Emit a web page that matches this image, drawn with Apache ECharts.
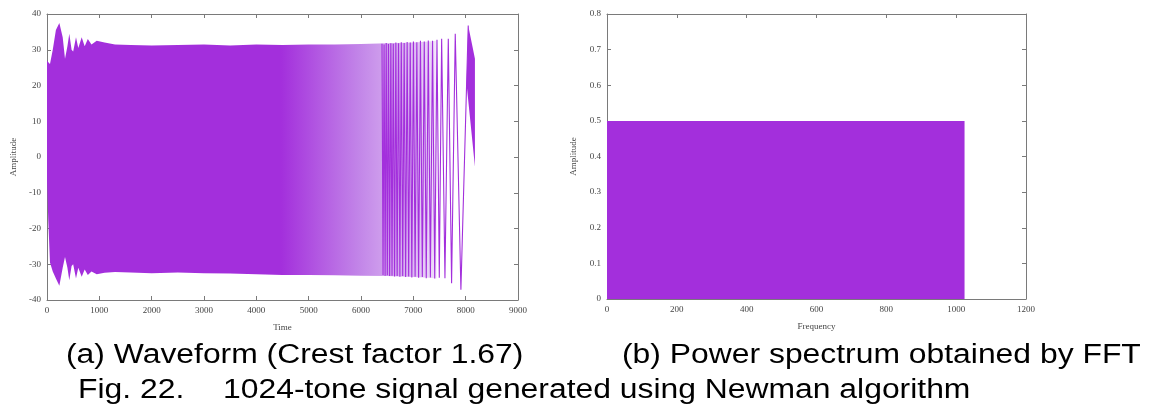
<!DOCTYPE html>
<html>
<head>
<meta charset="utf-8">
<script src="https://cdn.jsdelivr.net/npm/echarts@6/dist/echarts.min.js"></script>
<style>
  html, body { margin: 0; padding: 0; background: #ffffff; }
  #chart { width: 1151px; height: 412px; }
</style>
</head>
<body>
<div id="chart"></div>
<script>
// ---- Waveform (a): dense envelope of the 1024-tone signal ----
const envTime  = [0, 25, 57, 110, 170, 236, 300, 344, 390, 426, 470, 500, 554, 598, 663, 720, 780, 850, 950, 1100, 1300, 1600, 2000, 2500, 3000, 3500, 4000, 4500, 5000, 5500, 6000, 6500, 7000, 7300, 7450];
const envUpper = [27, 26.5, 26, 30, 35.5, 37.5, 33.5, 27.5, 31, 34.5, 30, 29.5, 33.5, 30.5, 33.5, 31, 33, 31.5, 32.5, 32, 31.5, 31.3, 31.2, 31.3, 31.5, 31.2, 31.5, 31.3, 31.5, 31.5, 31.6, 31.8, 32, 32.3, 32.5];
const envLower = [-6.5, -18, -29.5, -32, -34, -36, -31, -28, -31, -34.5, -30.5, -30, -34, -31, -33.5, -31.5, -33, -32, -32.8, -32.4, -32.2, -32.3, -32.5, -32.3, -32.5, -32.6, -32.8, -33, -33, -33.1, -33.2, -33.3, -33.6, -33.8, -34];

// Resolved swings toward the end of the record (alternating peaks / troughs)
const swingTime = [
  6401, 6421, 6441, 6461, 6482, 6503, 6525, 6547, 6570, 6593,
  6617, 6641, 6666, 6691, 6717, 6743, 6770, 6797, 6825, 6853,
  6882, 6911, 6941, 6971, 7002, 7034, 7067, 7101, 7136, 7172,
  7209, 7247, 7286, 7326, 7367, 7409, 7452, 7496, 7541, 7604,
  7668, 7731, 7801, 7909, 8049
];
const swingValue = [
  31.7, -33.0, 31.5, -33.2, 31.9, -33.1, 31.6, -33.3, 31.8, -33.2,
  31.7, -33.4, 32.0, -33.3, 31.8, -33.5, 32.1, -33.3, 31.9, -33.6,
  32.2, -33.4, 32.0, -33.7, 32.3, -33.5, 32.1, -33.8, 32.5, -33.6,
  32.3, -33.9, 32.6, -33.7, 32.5, -34.0, 32.8, -33.8, 33.1, -33.9,
  33.1, -35.3, 34.5, -37.1, 36.8
];

// Final burst after the last swing
const burstTime  = [8017, 8049, 8090, 8130, 8177];
const burstUpper = [20.5, 36.8, 33.8, 30.9, 27.5];
const burstLower = [20.5, 15.9, 9.9, 4.1, -2.7];

// ---- Power spectrum (b): flat 1024-tone spectrum ----
const toneRange = [0, 1024];
const toneLevel = 0.5;

// ---- Axis ticks ----
const timeTicks = { min: 0, max: 9000, step: 1000 };
const waveAmpTicks = { min: -40, max: 40, step: 10 };
const freqTicks = { min: 0, max: 1200, step: 200 };
const specAmpTicks = { min: 0, max: 0.8, step: 0.1 };

const purple = '#a32fdc';
const frameColor = '#7a7a7a';
const labelFont = 'Liberation Serif';
const captionFont = '27px "Liberation Sans", Arial, sans-serif';

function plainNumber(v) {
  return String(Number(Number(v).toFixed(6)));
}

function axisBase(ticks, extra) {
  return Object.assign({
    type: 'value',
    min: ticks.min, max: ticks.max, interval: ticks.step,
    axisLine: { show: true, onZero: false, lineStyle: { color: frameColor, width: 1 } },
    axisTick: { show: true, inside: true, length: 4, lineStyle: { color: frameColor } },
    axisLabel: { show: true, fontFamily: labelFont, fontSize: 9, color: '#444', margin: 6, formatter: plainNumber },
    splitLine: { show: false },
    nameTextStyle: { fontFamily: labelFont, fontSize: 9, color: '#444' }
  }, extra);
}
function mirrorAxis(ticks, extra) {
  const a = axisBase(ticks, extra);
  a.axisLabel = { show: false };
  return a;
}

function bandRenderer(times, upper, lower, gradientSpan) {
  return function (params, api) {
    if (params.dataIndex !== 0) return null;
    const pts = [];
    for (let i = 0; i < times.length; i++) pts.push(api.coord([times[i], upper[i]]));
    for (let i = times.length - 1; i >= 0; i--) pts.push(api.coord([times[i], lower[i]]));
    let fill = purple;
    if (gradientSpan) {
      const x0 = api.coord([gradientSpan[0], 0])[0];
      const x1 = api.coord([gradientSpan[1], 0])[0];
      fill = new echarts.graphic.LinearGradient(x0, 0, x1, 0, [
        { offset: 0, color: '#a32fdc' },
        { offset: 0.6, color: '#a32fdc' },
        { offset: 0.7, color: '#b35ae2' },
        { offset: 0.8, color: '#c285e8' },
        { offset: 0.88, color: '#d2a5ee' },
        { offset: 0.95, color: '#dfc0f3' },
        { offset: 0.99, color: '#ecd9f8' },
        { offset: 1, color: '#f8f0fc' }
      ], true);
    }
    return { type: 'polygon', shape: { points: pts }, style: { fill: fill, stroke: null } };
  };
}

const chart = echarts.init(document.getElementById('chart'), null, { renderer: 'canvas' });

chart.setOption({
  backgroundColor: '#ffffff',
  animation: false,
  grid: [
    { left: 47, top: 14, width: 471, height: 286 },
    { left: 607, top: 14, width: 419, height: 285 }
  ],
  xAxis: [
    axisBase(timeTicks, { gridIndex: 0, position: 'bottom', name: 'Time', nameLocation: 'middle', nameGap: 23 }),
    mirrorAxis(timeTicks, { gridIndex: 0, position: 'top' }),
    axisBase(freqTicks, { gridIndex: 1, position: 'bottom', name: 'Frequency', nameLocation: 'middle', nameGap: 23 }),
    mirrorAxis(freqTicks, { gridIndex: 1, position: 'top' })
  ],
  yAxis: [
    axisBase(waveAmpTicks, { gridIndex: 0, position: 'left', name: 'Amplitude', nameLocation: 'middle', nameRotate: 90, nameGap: 29 }),
    mirrorAxis(waveAmpTicks, { gridIndex: 0, position: 'right' }),
    axisBase(specAmpTicks, { gridIndex: 1, position: 'left', name: 'Amplitude', nameLocation: 'middle', nameRotate: 90, nameGap: 29 }),
    mirrorAxis(specAmpTicks, { gridIndex: 1, position: 'right' })
  ],
  series: [
    {
      type: 'custom', name: 'envelope', xAxisIndex: 0, yAxisIndex: 0,
      data: envTime.map((t, i) => [t, envUpper[i], envLower[i]]),
      encode: { x: 0, y: [1, 2] },
      renderItem: bandRenderer(envTime, envUpper, envLower, [envTime[0], envTime[envTime.length - 1]]),
      z: 2
    },
    {
      type: 'line', name: 'swings', xAxisIndex: 0, yAxisIndex: 0,
      data: swingTime.map((t, i) => [t, swingValue[i]]),
      symbol: 'none', lineStyle: { color: purple, width: 1.1 },
      z: 3
    },
    {
      type: 'custom', name: 'burst', xAxisIndex: 0, yAxisIndex: 0,
      data: burstTime.map((t, i) => [t, burstUpper[i], burstLower[i]]),
      encode: { x: 0, y: [1, 2] },
      renderItem: bandRenderer(burstTime, burstUpper, burstLower, null),
      z: 3
    },
    {
      type: 'line', name: 'spectrum', xAxisIndex: 2, yAxisIndex: 2,
      data: toneRange.map(f => [f, toneLevel]),
      symbol: 'none', lineStyle: { width: 0 },
      areaStyle: { color: purple, opacity: 1 },
      z: 2
    }
  ],
  graphic: [
    { type: 'text', x: 66, y: 356, scaleX: 1.18, style: { text: '(a) Waveform (Crest factor 1.67)', font: captionFont, fill: '#000', textVerticalAlign: 'middle' } },
    { type: 'text', x: 622, y: 356, scaleX: 1.18, style: { text: '(b) Power spectrum obtained by FFT', font: captionFont, fill: '#000', textVerticalAlign: 'middle' } },
    { type: 'text', x: 78, y: 391, scaleX: 1.18, style: { text: 'Fig. 22.', font: captionFont, fill: '#000', textVerticalAlign: 'middle' } },
    { type: 'text', x: 223, y: 391, scaleX: 1.18, style: { text: '1024-tone signal generated using Newman algorithm', font: captionFont, fill: '#000', textVerticalAlign: 'middle' } }
  ]
});
</script>
</body>
</html>
